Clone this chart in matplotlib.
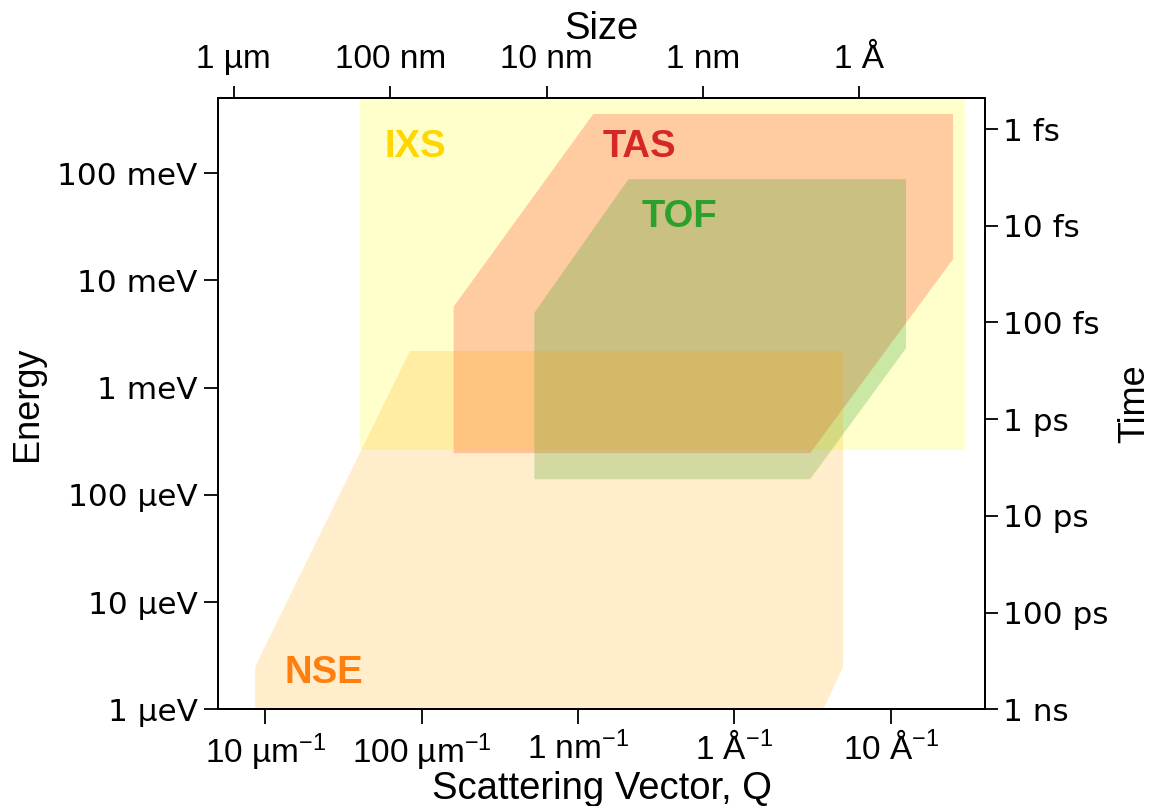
import numpy as np
import matplotlib
matplotlib.use("Agg")
import matplotlib.pyplot as plt
from matplotlib.ticker import NullLocator

plt.rcParams["mathtext.fontset"] = "custom"
plt.rcParams["mathtext.rm"] = "Liberation Sans"
plt.rcParams["mathtext.it"] = "Liberation Sans:italic"
plt.rcParams["mathtext.bf"] = "Liberation Sans:bold"

SANS = "Liberation Sans"

# Q in 1/Å, energy in meV, size in Å, time in s
q_ticks = [1e-3, 1e-2, 1e-1, 1, 10]
q_labels = [r"10 µm$^{-1}$", r"100 µm$^{-1}$", r"1 nm$^{-1}$",
            r"1 Å$^{-1}$", r"10 Å$^{-1}$"]
e_ticks = [1e-3, 1e-2, 1e-1, 1, 10, 100]
e_labels = ["1 µeV", "10 µeV", "100 µeV", "1 meV", "10 meV", "100 meV"]
size_ticks = [1e4, 1e3, 1e2, 10, 1]
size_labels = ["1 µm", "100 nm", "10 nm", "1 nm", "1 Å"]
t_ticks = [1e-9, 1e-10, 1e-11, 1e-12, 1e-13, 1e-14, 1e-15]
t_labels = ["1 ns", "100 ps", "10 ps", "1 ps", "100 fs", "10 fs", "1 fs"]

# instrument coverage in (Q, E)
ixs_q = [4e-3, 30, 30, 4e-3]
ixs_e = [0.26, 0.26, 500, 500]
tas_q = [0.016, 0.016, 0.125, 25, 25, 3.05]
tas_e = [0.245, 5.7, 357, 357, 15.8, 0.245]
tof_q = [0.0525, 0.0525, 0.21, 12.5, 12.5, 3.05]
tof_e = [0.14, 5.0, 88, 88, 2.33, 0.14]
nse_q = [8.6e-4, 8.6e-4, 8.4e-3, 4.95, 4.95, 3.7]
nse_e = [1e-3, 2.5e-3, 2.2, 2.2, 2.47e-3, 1e-3]

fig = plt.figure(figsize=(11.52, 8.06), dpi=100)
ax = fig.add_axes([0.1895, 0.12, 0.6655, 0.758])
ax.set_xscale("log")
ax.set_yscale("log")
ax.set_xlim(5e-4, 40)
ax.set_ylim(1e-3, 500)

ax.fill(ixs_q, ixs_e, color="yellow", alpha=0.2, lw=0)
ax.fill(tas_q, tas_e, color="tomato", alpha=0.33, lw=0)
ax.fill(tof_q, tof_e, color="tab:green", alpha=0.25, lw=0)
ax.fill(nse_q, nse_e, color="orange", alpha=0.2, lw=0)

lab = dict(fontsize=27.5, fontweight="bold", family=SANS, ha="left", va="baseline")
ax.text(5.8e-3, 143, "IXS", color="gold", **lab)
ax.text(0.144, 143, "TAS", color="tab:red", **lab)
ax.text(0.253, 31.8, "TOF", color="tab:green", **lab)
ax.text(1.33e-3, 1.77e-3, "NSE", color="tab:orange", **lab)

for s in ax.spines.values():
    s.set_linewidth(1.4)

ax.xaxis.set_minor_locator(NullLocator())
ax.yaxis.set_minor_locator(NullLocator())
ax.set_xticks(q_ticks)
ax.set_xticklabels(q_labels, fontsize=24, family=SANS)
ax.set_yticks(e_ticks)
ax.set_yticklabels(e_labels, fontsize=22.4)
ax.tick_params(axis="x", length=11, width=1.3, pad=5)
ax.tick_params(axis="y", length=10, width=1.3, pad=5)

ax.set_xlabel("Scattering Vector, Q", fontsize=27.5, family=SANS)
ax.xaxis.set_label_coords(0.5, -0.101)
ax.set_ylabel("Energy", fontsize=26, family=SANS)
ax.yaxis.set_label_coords(-0.226, 0.5)

# real-space size on top: d = 2π/Q
def q2size(q):
    return 2 * np.pi / np.asarray(q, dtype=float)

top = ax.secondary_xaxis("top", functions=(q2size, q2size))
top.xaxis.set_minor_locator(NullLocator())
top.set_xticks(size_ticks)
top.set_xticklabels(size_labels, fontsize=24, family=SANS)
top.tick_params(axis="x", length=9, width=1.3, pad=8)
top.spines["top"].set_linewidth(1.4)
fig.text(0.5217, 0.9516, "Size", fontsize=27.5, family=SANS,
         ha="center", va="baseline")

# time scale on the right
rt = ax.twinx()
rt.set_yscale("log")
rt.set_ylim(1e-9, 10 ** -15.318)
rt.yaxis.set_minor_locator(NullLocator())
rt.set_yticks(t_ticks)
rt.set_yticklabels(t_labels, fontsize=22.4)
rt.tick_params(axis="y", length=9, width=1.3, pad=4)
rt.set_ylabel("Time", fontsize=26, family=SANS)
rt.yaxis.set_label_coords(1.173, 0.5)
for s in rt.spines.values():
    s.set_linewidth(1.4)

fig.savefig("out.png", dpi=100)
